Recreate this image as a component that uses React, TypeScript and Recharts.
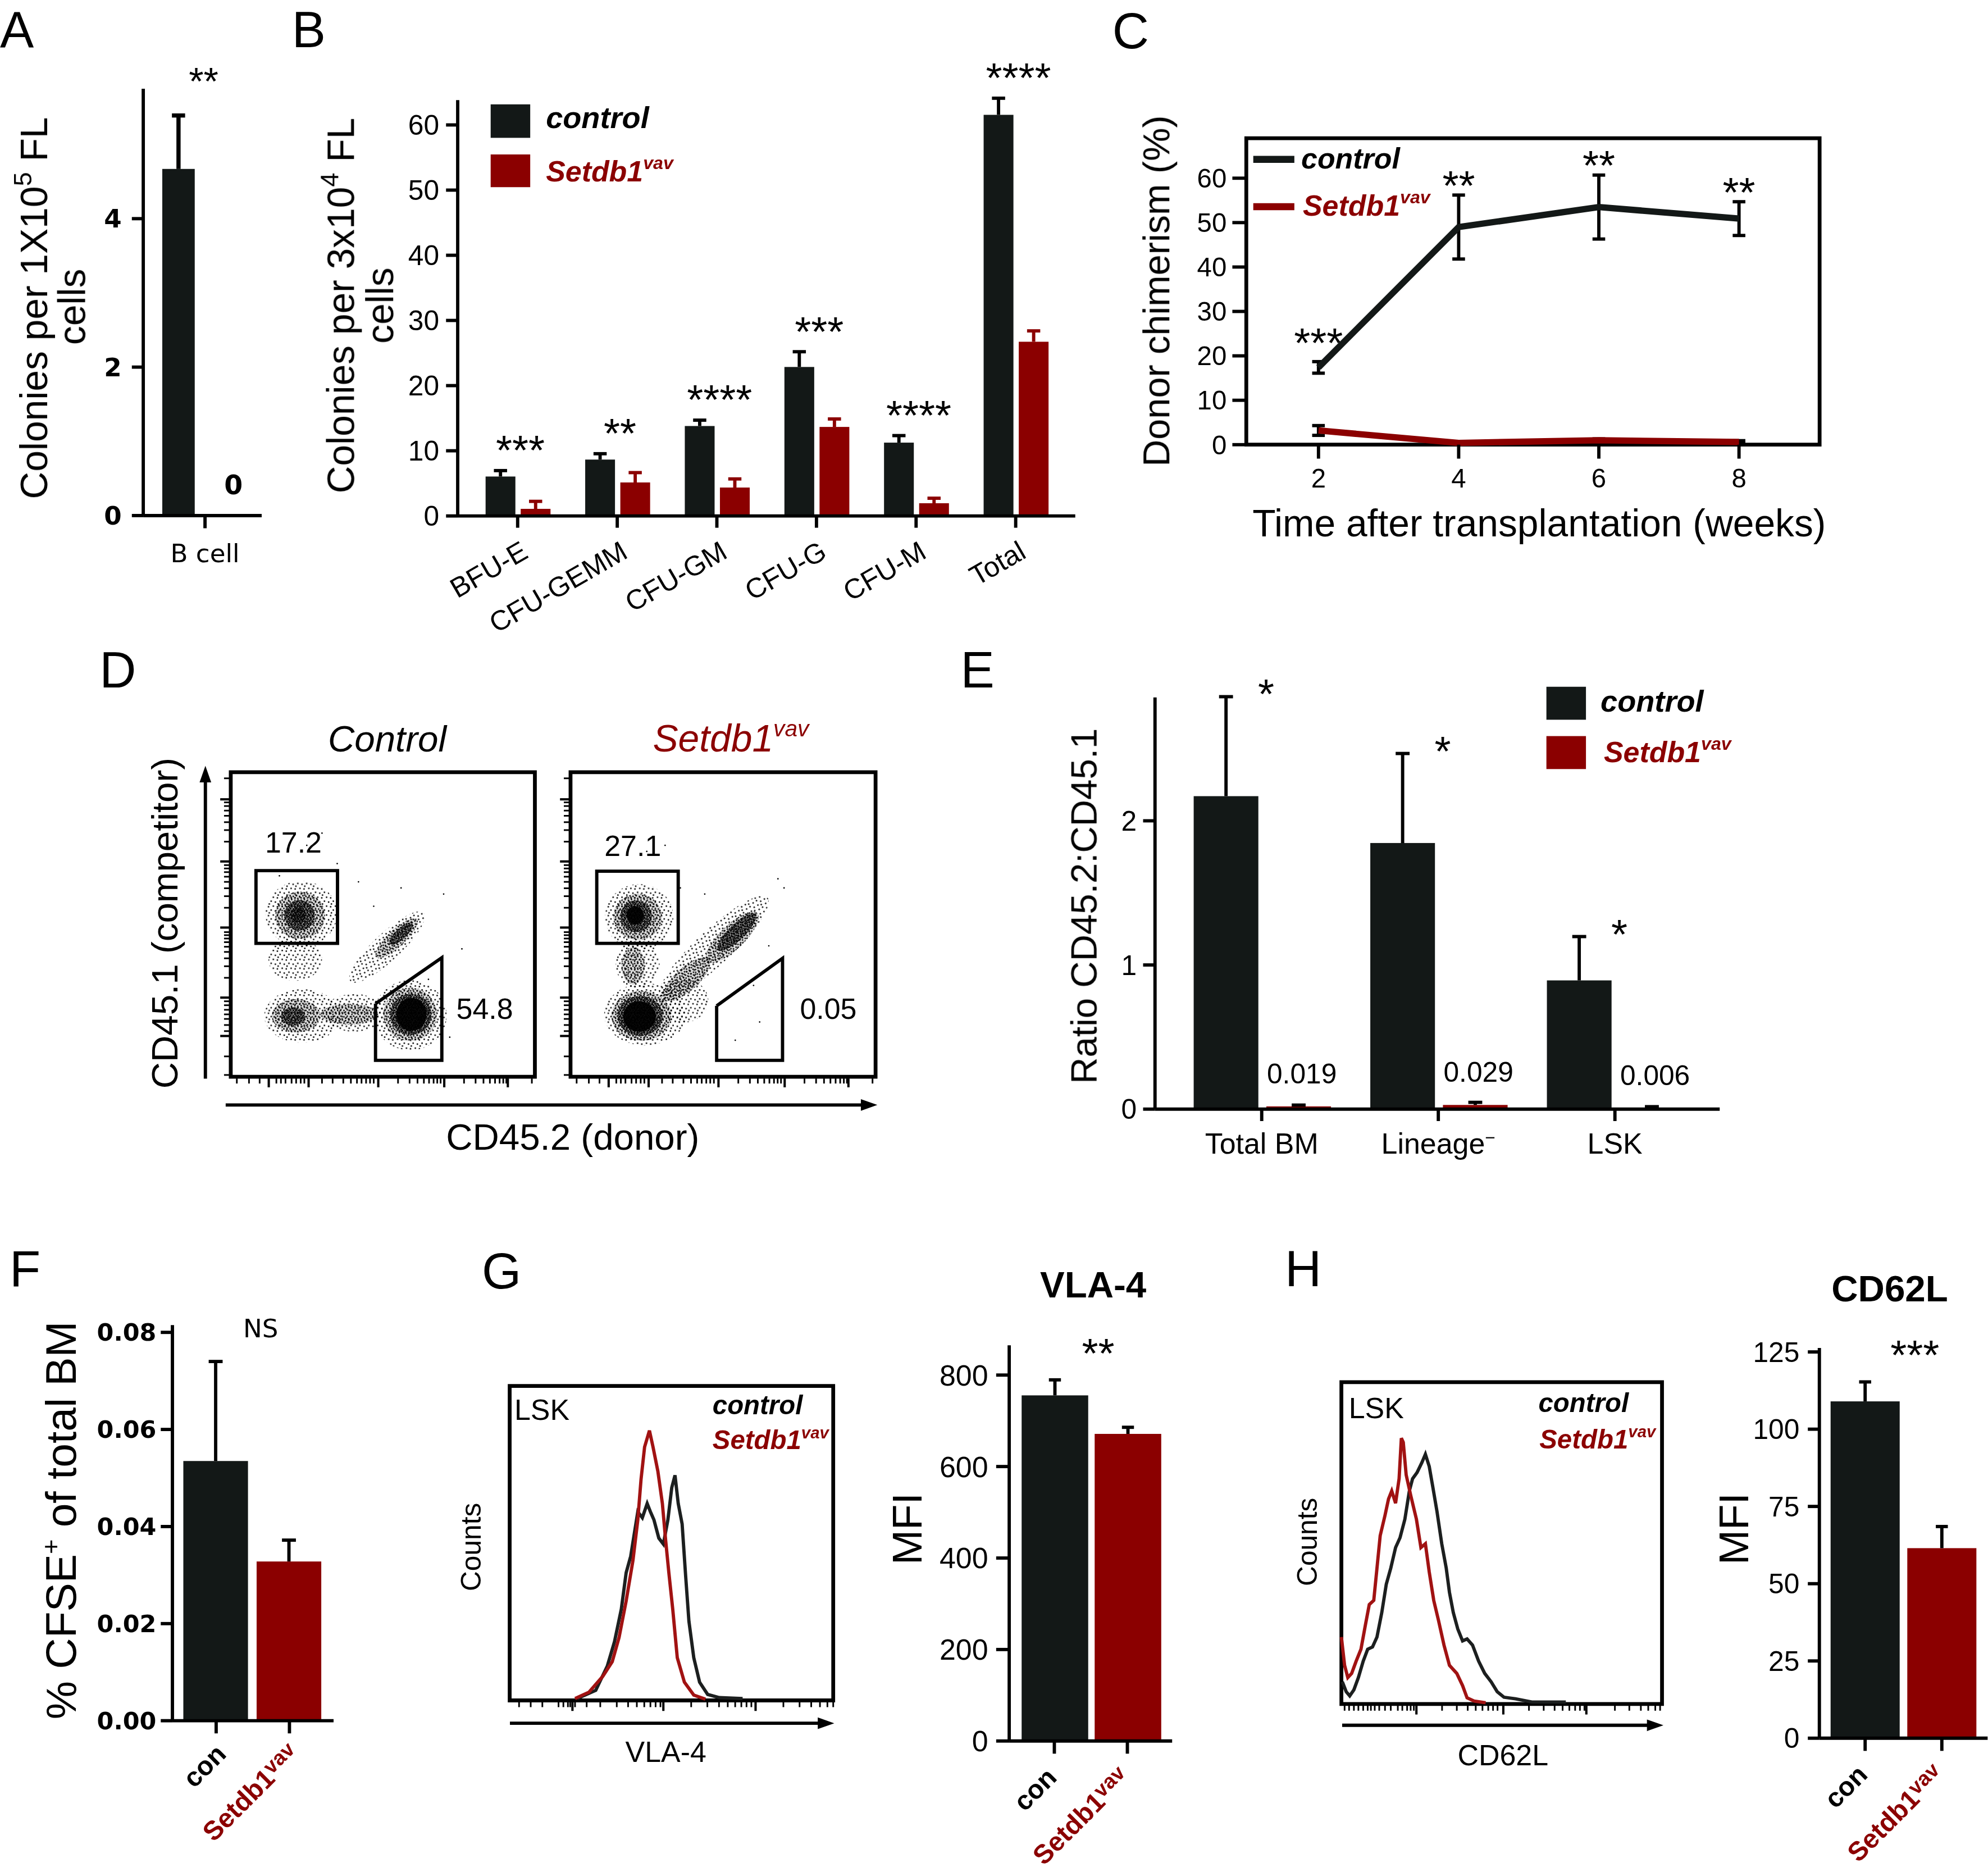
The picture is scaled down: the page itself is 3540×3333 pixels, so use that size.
import React from 'react';
import {
  BarChart, Bar, XAxis, YAxis, LineChart, Line, ErrorBar, LabelList,
  ScatterChart, Scatter, ReferenceArea,
} from 'recharts';

/* ===================== DATA ===================== */
// A – B-cell colonies per 1x10^5 FL cells
const aCategories = ['B cell'];
const aControl = [4.67];
const aControlErr = [0.72];
const aSetdb1 = [0];
const aSetdb1Err = [0];
const aStars = ['**'];
const aTicks = [0, 2, 4];

// B – colonies per 3x10^4 FL cells
const bCategories = ['BFU-E', 'CFU-GEMM', 'CFU-GM', 'CFU-G', 'CFU-M', 'Total'];
const bControl = [6.05, 8.65, 13.8, 22.86, 11.25, 61.55];
const bControlErr = [0.91, 0.9, 0.9, 2.34, 1.08, 2.55];
const bSetdb1 = [1.09, 5.14, 4.36, 13.66, 1.95, 26.73];
const bSetdb1Err = [1.15, 1.51, 1.32, 1.22, 0.77, 1.67];
const bStars = ['***', '**', '****', '***', '****', '****'];
const bTicks = [0, 10, 20, 30, 40, 50, 60];

// C – donor chimerism (%)
const cWeeks = [2, 4, 6, 8];
const cControl = [17.4, 49.0, 53.5, 50.9];
const cControlErr = [1.3, 7.2, 7.2, 3.8];
const cSetdb1 = [3.2, 0.4, 1.0, 0.6];
const cSetdb1Err = [1.1, 0.3, 0.3, 0.3];
const cStars = ['***', '**', '**', '**'];
const cTicks = [0, 10, 20, 30, 40, 50, 60];

// D – flow cytometry populations, channel units 0-1000
// [CD45.2, CD45.1, half-width, half-height, tilt(deg), density 1..4]
const dControlPops = [
  [232, 535, 118, 108, 0, 1],
  [228, 530, 82, 78, 0, 2],
  [226, 530, 50, 50, 0, 3],
  [222, 532, 24, 26, 0, 3],
  [212, 385, 88, 70, 0, 1],
  [235, 200, 125, 88, 0, 1],
  [215, 200, 80, 55, 0, 2],
  [205, 198, 40, 30, 0, 3],
  [405, 210, 100, 62, 0, 1],
  [390, 205, 95, 34, 0, 2],
  [590, 202, 120, 115, 0, 1],
  [590, 205, 88, 88, 0, 2],
  [592, 205, 68, 68, 0, 3],
  [594, 205, 50, 54, 0, 4],
  [514, 426, 165, 45, 43, 1],
  [545, 455, 92, 28, 43, 2],
  [560, 470, 50, 18, 43, 3],
];
const dSetdb1Pops = [
  [225, 525, 112, 108, 0, 1],
  [220, 525, 80, 76, 0, 2],
  [215, 527, 52, 52, 0, 3],
  [212, 530, 28, 30, 0, 4],
  [220, 370, 72, 82, 0, 1],
  [205, 365, 38, 62, 0, 2],
  [245, 205, 135, 102, 0, 1],
  [232, 200, 98, 82, 0, 2],
  [228, 200, 74, 66, 0, 3],
  [226, 198, 54, 50, 0, 4],
  [370, 250, 82, 72, 0, 1],
  [470, 425, 240, 58, 43, 1],
  [380, 320, 100, 38, 42, 2],
  [530, 458, 115, 40, 44, 2],
  [545, 475, 85, 26, 44, 3],
];
const dControlEvents = [[300, 800], [420, 640], [470, 560], [700, 600], [760, 420], [720, 130], [350, 700], [560, 620], [650, 320], [250, 760], [160, 660], [780, 250]];
const dSetdb1Events = [[540, 120], [620, 180], [360, 620], [440, 600], [700, 620], [310, 760], [600, 300], [650, 430], [250, 740], [680, 650]];
const dControlGateRect = [83, 351, 438, 677];
const dSetdb1GateRect = [86, 353, 438, 675];
const dControlGatePoly = [[476, 240], [694, 391], [694, 54], [476, 54], [476, 240]];
const dSetdb1GatePoly = [[479, 233], [695, 389], [695, 54], [479, 54], [479, 233]];
const dControlGateLabels = [[206, 770, '17.2'], [835, 224, '54.8']];
const dSetdb1GateLabels = [[204, 760, '27.1'], [845, 224, '0.05']];
const dMajorX = [125, 256, 485, 702, 911];
const dMinorX = [20, 60, 95, 150, 165, 180, 200, 215, 230, 242, 300, 335, 370, 395, 415, 430, 445, 458, 470, 550, 588, 614, 635, 652, 667, 679, 690, 767, 805, 831, 852, 869, 884, 896, 906, 990];
const dMajorY = [134, 260, 490, 707, 911];
const dMinorY = [6, 67, 150, 170, 190, 205, 220, 235, 248, 325, 363, 389, 410, 427, 442, 454, 465, 475, 555, 593, 619, 640, 657, 672, 684, 695, 772, 810, 836, 857, 874, 889, 901, 980];

// E – ratio CD45.2:CD45.1
const eCategories = ['Total BM', 'Lineage', 'LSK'];
const eControl = [2.171, 1.846, 0.893];
const eControlErr = [0.69, 0.621, 0.304];
const eSetdb1 = [0.019, 0.029, 0.006];
const eSetdb1Err = [0.009, 0.018, 0.011];
const eStars = ['*', '*', '*'];
const eTicks = [0, 1, 2];

// F – % CFSE+ of total BM
const fCategories = ['con', 'Setdb1'];
const fValues = [0.0535, 0.0328];
const fErrors = [0.0205, 0.0044];
const fTicks = [0, 0.02, 0.04, 0.06, 0.08];
const fSignif = 'NS';

// G – VLA-4
const gCategories = ['con', 'Setdb1'];
const gValues = [755.6, 671.4];
const gErrors = [33.9, 14.4];
const gTicks = [0, 200, 400, 600, 800];
const gSignif = '**';
const gHistControlX = [209, 266, 302, 324, 345, 360, 374, 396, 410, 425, 435, 446, 461, 475, 489, 501, 511, 521, 533, 544, 554, 569, 587, 612, 648, 720];
const gHistControlY = [6, 32, 110, 187, 290, 406, 458, 600, 581, 626, 600, 574, 516, 497, 574, 677, 716, 626, 561, 394, 252, 136, 58, 19, 9, 6];
const gHistSetdb1X = [202, 245, 288, 317, 338, 360, 381, 396, 406, 417, 432, 443, 458, 472, 482, 492, 504, 518, 540, 569, 605];
const gHistSetdb1Y = [6, 26, 77, 123, 200, 316, 445, 574, 703, 806, 858, 806, 729, 626, 510, 406, 290, 136, 58, 17, 4];
const gMajor = [194, 475, 760];
const gMinor = [29, 65, 101, 151, 166, 180, 187, 202, 238, 280, 331, 366, 393, 416, 435, 451, 466, 561, 611, 647, 674, 697, 716, 732, 747, 846, 896, 932, 959, 982, 1000];

// H – CD62L
const hCategories = ['con', 'Setdb1'];
const hValues = [109.0, 61.5];
const hErrors = [6.3, 7.0];
const hTicks = [0, 25, 50, 75, 100, 125];
const hSignif = '***';
const hHistControlX = [3, 15, 26, 39, 53, 68, 82, 97, 111, 126, 140, 154, 169, 183, 198, 212, 222, 236, 251, 262, 274, 285, 298, 313, 327, 337, 349, 363, 378, 392, 409, 428, 447, 467, 486, 507, 543, 594, 700];
const hHistControlY = [69, 38, 25, 44, 82, 133, 170, 177, 208, 284, 372, 422, 486, 517, 574, 662, 700, 719, 750, 776, 738, 675, 599, 498, 422, 347, 284, 233, 196, 202, 183, 133, 95, 69, 38, 21, 16, 6, 6];
const hHistSetdb1X = [0, 10, 20, 32, 46, 61, 75, 87, 101, 111, 121, 136, 147, 157, 169, 180, 187, 193, 202, 216, 234, 248, 262, 274, 288, 303, 320, 337, 360, 378, 392, 414, 450];
const hHistSetdb1Y = [208, 120, 82, 95, 133, 170, 246, 309, 322, 422, 523, 586, 637, 662, 624, 700, 826, 813, 712, 649, 574, 486, 498, 410, 322, 259, 183, 120, 95, 57, 19, 9, 4];
const hMajor = [234, 505, 764];
const hMinor = [10, 24, 39, 53, 68, 82, 92, 104, 118, 136, 154, 176, 190, 205, 216, 226, 314, 360, 394, 419, 440, 458, 473, 487, 585, 631, 665, 690, 711, 729, 744, 758, 853, 898, 934, 957, 979, 994];

/* ===================== STYLE / LAYOUT ===================== */
const PAGE_W = 1568;
const PAGE_H = 1476;
const SCALE = 3540 / 1568;
const INK = '#000000';
const BAR_BLACK = '#131817';
const BAR_RED = '#8b0000';
const HIST_BLACK = '#1c1f1f';
const HIST_RED = '#a11212';
const ARIAL = "'Liberation Sans', Arial, Helvetica, sans-serif";
const DEJAVU = "'DejaVu Sans', Verdana, sans-serif";
const AXIS_W = 2.6;
const axisStyle = { stroke: INK, strokeWidth: AXIS_W };

// speckle textures for the flow-cytometry density: [tile size, dot positions]
const SPECKLE_TILES: any = {
  1: [7, [[0.8, 1.1], [4.6, 0.6], [2.9, 3.7], [6.2, 4.4], [1.4, 5.9]]],
  2: [5, [[0.6, 0.9], [3.1, 0.4], [1.9, 2.4], [4.3, 2.9], [0.5, 4.1], [2.9, 4.5]]],
  3: [4, [[0.5, 0.6], [2.3, 0.3], [1.4, 1.7], [3.3, 1.9], [0.4, 3.0], [2.4, 3.3], [3.6, 3.8]]],
};
const SPECKLE_SHADE: any = { 1: 0, 2: 0.12, 3: 0.32 };

const PAD_L = 90, PAD_T = 70, PAD_R = 40, PAD_B = 110;
function frameOf(r: any, yw: number, xh: number) {
  return {
    pos: { position: 'absolute' as const, left: r.x0 - PAD_L, top: r.y0 - PAD_T },
    width: r.x1 - r.x0 + PAD_L + PAD_R,
    height: r.y1 - r.y0 + PAD_T + PAD_B,
    margin: { left: PAD_L - yw, top: PAD_T, right: PAD_R, bottom: PAD_B - xh },
  };
}

function Mark({ x, cy, fs, text, font = ARIAL, mode = 'star' }: any) {
  const y = mode === 'star' ? cy + 0.585 * fs : cy + 0.36 * fs;
  return (
    <text x={x} y={y} textAnchor="middle" fontSize={fs} fontFamily={font} fill={INK}>{text}</text>
  );
}

function barShape(o: any) {
  return (p: any) => {
    const x = Number(p.x), y = Number(p.y), w = Number(p.width), h = Number(p.height);
    const pl = p.payload || {};
    const err = Number(pl[o.errKey] || 0);
    const e = err * o.ppu;
    const cx = x + w / 2;
    const top = y - e;
    const fill = typeof o.fill === 'function' ? o.fill(pl) : o.fill;
    const starText = o.star ? pl[o.star.key] : null;
    return (
      <g>
        {h > 0 && <rect x={x} y={y} width={w} height={h} fill={fill} />}
        {err > 0 && (
          <g stroke={o.errColor} strokeWidth={o.ew}>
            <line x1={cx} x2={cx} y1={y} y2={top} />
            <line x1={cx - o.cap / 2} x2={cx + o.cap / 2} y1={top} y2={top} />
          </g>
        )}
        {starText ? (
          <Mark x={x + w + o.star.after + o.star.dx} cy={top - o.star.lift} fs={o.star.fs}
            text={starText} font={o.star.font || ARIAL} mode={o.star.mode || 'star'} />
        ) : null}
      </g>
    );
  };
}

function SetdbText({ x, y, fs, anchor = 'start', italic = false, bold = false, fill = BAR_RED, supScale = 0.62, rise = 0.42, transform }: any) {
  return (
    <text x={x} y={y} fontSize={fs} fontFamily={ARIAL} fontStyle={italic ? 'italic' : 'normal'}
      fontWeight={bold ? 'bold' : 'normal'} fill={fill} textAnchor={anchor} transform={transform}>
      Setdb1<tspan dy={-rise * fs} fontSize={fs * supScale}>vav</tspan>
    </text>
  );
}

/* ---------- grouped (control vs Setdb1) bar panel ---------- */
function GroupedBars(props: any) {
  const { rect, rows, domain, ticks, yFont, yTickSize, yTickMargin, pad, barSize, barGap,
    xTick, xTickSize, xTickMargin, setErrColor, cap, ew, star, valueLabel } = props;
  const f = frameOf(rect, 70, 50);
  const ppu = (rect.y1 - rect.y0) / domain[1];
  return (
    <div style={f.pos}>
      <BarChart width={f.width} height={f.height} data={rows} margin={f.margin} barGap={barGap}>
        <XAxis dataKey="name" type="category" padding={pad} height={50} tickSize={xTickSize}
          tickMargin={xTickMargin} interval={0} axisLine={axisStyle} tickLine={axisStyle} tick={xTick} />
        <YAxis type="number" domain={domain} ticks={ticks} width={70} tickSize={yTickSize}
          tickMargin={yTickMargin} interval={0} axisLine={axisStyle} tickLine={axisStyle} tick={yFont} />
        <Bar dataKey="c" barSize={barSize} isAnimationActive={false}
          shape={barShape({ fill: BAR_BLACK, errKey: 'ce', errColor: INK, cap, ew, ppu,
            star: { key: 'star', after: barGap / 2, ...star } })} />
        <Bar dataKey="s" barSize={barSize} isAnimationActive={false}
          shape={barShape({ fill: BAR_RED, errKey: 'se', errColor: setErrColor, cap, ew, ppu })}>
          {valueLabel ? (
            <LabelList dataKey="s" content={(p: any) => (
              <text x={Number(p.x) + Number(p.width) / 2 + valueLabel.dx} y={Number(p.y) - valueLabel.lift + 0.36 * valueLabel.fs}
                textAnchor="middle" fontSize={valueLabel.fs} fontFamily={valueLabel.font}
                fontWeight={valueLabel.weight || 'normal'} fill={INK}>{String(p.value)}</text>
            )} />
          ) : null}
        </Bar>
      </BarChart>
    </div>
  );
}

/* ---------- single-series (con / Setdb1) bar panel ---------- */
function GroupTick({ x, y, payload, dx, dy }: any) {
  const px = Number(x) + dx, py = Number(y) + dy;
  const isCon = payload.value === 'con';
  if (isCon) {
    return (
      <text x={px} y={py} transform={`rotate(-45 ${px} ${py})`} textAnchor="end" fontFamily={ARIAL}
        fontWeight="bold" fontSize={21} fill={INK}>con</text>
    );
  }
  return (
    <SetdbText x={px} y={py} fs={21} anchor="end" bold fill={BAR_RED} supScale={0.78} rise={0.26}
      transform={`rotate(-45 ${px} ${py})`} />
  );
}

function SingleBars(props: any) {
  const { rect, rows, domain, ticks, yFont, yTickSize, yTickMargin, pad, barSize, fmt,
    xDx, xDy, cap, star } = props;
  const f = frameOf(rect, 70, 50);
  const ppu = (rect.y1 - rect.y0) / domain[1];
  const band = (rect.x1 - rect.x0 - pad.left - pad.right) / rows.length;
  return (
    <div style={f.pos}>
      <BarChart width={f.width} height={f.height} data={rows} margin={f.margin}>
        <XAxis dataKey="name" type="category" padding={pad} height={50} tickSize={10} tickMargin={0}
          interval={0} axisLine={axisStyle} tickLine={axisStyle}
          tick={(p: any) => <GroupTick {...p} dx={xDx} dy={xDy} />} />
        <YAxis type="number" domain={domain} ticks={ticks} width={70} tickSize={yTickSize}
          tickMargin={yTickMargin} interval={0} axisLine={axisStyle} tickLine={axisStyle} tick={yFont}
          tickFormatter={fmt} />
        <Bar dataKey="v" barSize={barSize} isAnimationActive={false}
          shape={barShape({ fill: (pl: any) => (pl.name === 'con' ? BAR_BLACK : BAR_RED), errKey: 'e',
            errColor: INK, cap, ew: AXIS_W, ppu,
            star: { key: 'star', after: (band - barSize) / 2, ...star } })} />
      </BarChart>
    </div>
  );
}

/* ---------- A ---------- */
function PanelA() {
  const rows = aCategories.map((name, i) => ({ name, c: aControl[i], ce: aControlErr[i], s: aSetdb1[i], se: aSetdb1Err[i], star: aStars[i] }));
  return (
    <GroupedBars rect={{ x0: 113, y0: 69.9, x1: 206.4, y1: 406.5 }} rows={rows} domain={[0, 5.75]} ticks={aTicks}
      yFont={{ fontSize: 20, fontFamily: DEJAVU, fontWeight: 'bold', fill: INK }} yTickSize={9} yTickMargin={8}
      pad={{ left: 4, right: 0 }} barSize={25.6} barGap={15.4}
      xTick={{ fontSize: 20, fontFamily: DEJAVU, fill: INK }} xTickSize={10} xTickMargin={12.5}
      setErrColor={INK} cap={10.4} ew={3.3}
      star={{ lift: 34, dx: -0.7, fs: 30 }}
      valueLabel={{ lift: 24.3, dx: 2.4, fs: 21, font: DEJAVU, weight: 'bold' }} />
  );
}

/* ---------- B ---------- */
function BTick({ x, y, payload }: any) {
  const px = Number(x) + 9.5, py = Number(y) + 23;
  return (
    <text x={px} y={py} transform={`rotate(-30 ${px} ${py})`} textAnchor="end" fontFamily={ARIAL}
      fontSize={22} fill={INK}>{payload.value}</text>
  );
}
function PanelB() {
  const rows = bCategories.map((name, i) => ({ name, c: bControl[i], ce: bControlErr[i], s: bSetdb1[i], se: bSetdb1Err[i], star: bStars[i] }));
  return (
    <GroupedBars rect={{ x0: 360.9, y0: 79.2, x1: 848, y1: 407.1 }} rows={rows} domain={[0, 63.8]} ticks={bTicks}
      yFont={{ fontSize: 22, fontFamily: ARIAL, fill: INK }} yTickSize={9.2} yTickMargin={5.4}
      pad={{ left: 8, right: 7.7 }} barSize={23.5} barGap={4.2}
      xTick={(p: any) => <BTick {...p} />} xTickSize={9.3} xTickMargin={0}
      setErrColor={BAR_RED} cap={10.4} ew={AXIS_W}
      star={{ lift: 24, dx: 1.8, fs: 33 }} />
  );
}

/* ---------- C ---------- */
const C_X_DOMAIN = [0.97, 9.15];
const C_Y_MAX = 69;
const cStarLift = [23, 15.5, 15.5, 15.5];
function PanelC() {
  const rect = { x0: 982.7, y0: 108.8, x1: 1434.9, y1: 350.5 };
  const f = frameOf(rect, 70, 60);
  const ppu = (rect.y1 - rect.y0) / C_Y_MAX;
  const rows = cWeeks.map((w, i) => ({ w, c: cControl[i], ce: cControlErr[i], s: cSetdb1[i], se: cSetdb1Err[i], star: cStars[i] }));
  const tickFont = { fontSize: 21, fontFamily: ARIAL, fill: INK };
  return (
    <div style={f.pos}>
      <LineChart width={f.width} height={f.height} data={rows} margin={f.margin}>
        <XAxis dataKey="w" type="number" domain={C_X_DOMAIN} ticks={cWeeks} interval={0} height={60}
          axisLine={false} tickLine={axisStyle} tickSize={11} tickMargin={8} tick={tickFont} />
        <YAxis type="number" domain={[0, C_Y_MAX]} ticks={cTicks} interval={0} width={70}
          axisLine={false} tickLine={axisStyle} tickSize={11} tickMargin={4.5} tick={tickFont} />
        <ReferenceArea x1={C_X_DOMAIN[0]} x2={C_X_DOMAIN[1]} y1={0} y2={C_Y_MAX} fill="none" fillOpacity={0}
          stroke={INK} strokeWidth={3} />
        <Line dataKey="s" type="linear" stroke={BAR_RED} strokeWidth={5} dot={false} isAnimationActive={false}>
          <ErrorBar dataKey="se" width={5} stroke={INK} strokeWidth={AXIS_W} direction="y" isAnimationActive={false} />
        </Line>
        <Line dataKey="c" type="linear" stroke={BAR_BLACK} strokeWidth={5} isAnimationActive={false}
          dot={(p: any) => (
            <Mark key={`cstar-${p.index}`} x={p.cx} cy={p.cy - p.payload.ce * ppu - cStarLift[p.index]} fs={33} text={p.payload.star} />
          )}>
          <ErrorBar dataKey="ce" width={5} stroke={INK} strokeWidth={AXIS_W} direction="y" isAnimationActive={false} />
        </Line>
      </LineChart>
    </div>
  );
}

/* ---------- D (flow plots) ---------- */
function LogTickX({ x, y, payload, majors }: any) {
  const major = majors.includes(payload.value);
  const yy = Number(y) + 1.3;
  return <line x1={x} x2={x} y1={yy} y2={yy + (major ? 7 : 4)} stroke={INK} strokeWidth={major ? 1.8 : 1.3} />;
}
function LogTickY({ x, y, payload, majors }: any) {
  const major = majors.includes(payload.value);
  const xx = Number(x) - 1.3;
  return <line x1={xx} x2={xx - (major ? 7 : 4)} y1={y} y2={y} stroke={INK} strokeWidth={major ? 1.8 : 1.3} />;
}

function FlowPlot({ rect, pops, events, gateRect, gatePoly, gateLabels }: any) {
  const f = frameOf(rect, 20, 20);
  const sx = (rect.x1 - rect.x0) / 1000;
  const sy = (rect.y1 - rect.y0) / 1000;
  const popRows = pops.map(([x, y, rx, ry, a, d]: any) => ({ x, y, rx, ry, a, d }));
  const eventRows = events.map(([x, y]: any) => ({ x, y }));
  const polyRows = gatePoly.map(([x, y]: any) => ({ x, y }));
  const labelRows = gateLabels.map(([x, y, t]: any) => ({ x, y, t }));
  return (
    <div style={f.pos}>
      <ScatterChart width={f.width} height={f.height} margin={f.margin}>
        <XAxis dataKey="x" type="number" domain={[0, 1000]} ticks={[...dMajorX, ...dMinorX]} interval={0} height={20}
          axisLine={false} tickLine={false} tickSize={0} tickMargin={0}
          tick={(p: any) => <LogTickX {...p} majors={dMajorX} />} />
        <YAxis dataKey="y" type="number" domain={[0, 1000]} ticks={[...dMajorY, ...dMinorY]} interval={0} width={20}
          axisLine={false} tickLine={false} tickSize={0} tickMargin={0}
          tick={(p: any) => <LogTickY {...p} majors={dMajorY} />} />
        <Scatter data={popRows} isAnimationActive={false}
          shape={(p: any) => {
            const d = p.payload.d;
            const rx = p.payload.rx * sx, ry = p.payload.ry * sy;
            const tf = `rotate(${-p.payload.a} ${p.cx} ${p.cy})`;
            if (d === 4) return <ellipse cx={p.cx} cy={p.cy} rx={rx} ry={ry} fill="#000" fillOpacity={0.93} transform={tf} />;
            return (
              <g transform={tf}>
                {SPECKLE_SHADE[d] > 0 && <ellipse cx={p.cx} cy={p.cy} rx={rx} ry={ry} fill="#000" fillOpacity={SPECKLE_SHADE[d]} />}
                <ellipse cx={p.cx} cy={p.cy} rx={rx} ry={ry} fill={`url(#spk${d})`} />
              </g>
            );
          }} />
        <Scatter data={eventRows} isAnimationActive={false}
          shape={(p: any) => <circle cx={p.cx} cy={p.cy} r={0.6} fill="#000" />} />
        <ReferenceArea x1={gateRect[0]} x2={gateRect[1]} y1={gateRect[2]} y2={gateRect[3]} fill="none" fillOpacity={0}
          stroke={INK} strokeWidth={2.6} />
        <Scatter data={polyRows} isAnimationActive={false} line={{ stroke: INK, strokeWidth: 2.6 }} lineJointType="linear"
          shape={() => <g />} />
        <Scatter data={labelRows} isAnimationActive={false}
          shape={(p: any) => (
            <text x={p.cx} y={p.cy + 0.36 * 23} textAnchor="middle" fontSize={23} fontFamily={ARIAL} fill={INK}>{p.payload.t}</text>
          )} />
        <ReferenceArea x1={0} x2={1000} y1={0} y2={1000} fill="none" fillOpacity={0} stroke={INK} strokeWidth={3} />
      </ScatterChart>
    </div>
  );
}

/* ---------- E ---------- */
function ETick({ x, y, payload }: any) {
  const v = payload.value;
  return (
    <text x={x} y={y} dy="0.71em" textAnchor="middle" fontFamily={ARIAL} fontSize={23} fill={INK}>
      {v === 'Lineage' ? (<>Lineage<tspan dy={-8} fontSize={14}>−</tspan></>) : v}
    </text>
  );
}
function PanelE() {
  const rows = eCategories.map((name, i) => ({ name, c: eControl[i], ce: eControlErr[i], s: eSetdb1[i], se: eSetdb1Err[i], star: eStars[i] }));
  return (
    <GroupedBars rect={{ x0: 910.5, y0: 550.2, x1: 1355.9, y1: 874.9 }} rows={rows} domain={[0, 2.856]} ticks={eTicks}
      yFont={{ fontSize: 22, fontFamily: ARIAL, fill: INK }} yTickSize={9.4} yTickMargin={5}
      pad={{ left: 14.5, right: 13 }} barSize={51} barGap={6.3}
      xTick={(p: any) => <ETick {...p} />} xTickSize={9.4} xTickMargin={9.2}
      setErrColor={INK} cap={11} ew={AXIS_W}
      star={{ lift: 10, dx: 3, fs: 33 }}
      valueLabel={{ lift: 26, dx: 2.5, fs: 22, font: ARIAL }} />
  );
}

/* ---------- F / G / H bars ---------- */
function PanelF() {
  const rows = fCategories.map((name, i) => ({ name, v: fValues[i], e: fErrors[i], star: i === 0 ? fSignif : undefined }));
  return (
    <SingleBars rect={{ x0: 135.9, y0: 1045.4, x1: 263, y1: 1357.4 }} rows={rows} domain={[0, 0.0815]} ticks={fTicks}
      fmt={(v: number) => v.toFixed(2)}
      yFont={{ fontSize: 19, fontFamily: DEJAVU, fontWeight: 'bold', fill: INK }} yTickSize={9.2} yTickMargin={3.5}
      pad={{ left: 5.6, right: 5.9 }} barSize={51} xDx={9} xDy={17.5} cap={11}
      star={{ lift: 26.2, dx: 6.6, fs: 20, font: DEJAVU, mode: 'text' }} />
  );
}
function PanelGBars() {
  const rows = gCategories.map((name, i) => ({ name, v: gValues[i], e: gErrors[i], star: i === 0 ? gSignif : undefined }));
  return (
    <SingleBars rect={{ x0: 796.3, y0: 1060.8, x1: 924.8, y1: 1372.8 }} rows={rows} domain={[0, 864.9]} ticks={gTicks}
      yFont={{ fontSize: 23, fontFamily: ARIAL, fill: INK }} yTickSize={10.3} yTickMargin={6.3}
      pad={{ left: 6.8, right: 6.5 }} barSize={52.5} xDx={3} xDy={20} cap={9.5}
      star={{ lift: 28.8, dx: 5.3, fs: 33 }} />
  );
}
function PanelHBars() {
  const rows = hCategories.map((name, i) => ({ name, v: hValues[i], e: hErrors[i], star: i === 0 ? hSignif : undefined }));
  return (
    <SingleBars rect={{ x0: 1435, y0: 1063.4, x1: 1567.7, y1: 1371.2 }} rows={rows} domain={[0, 126.3]} ticks={hTicks}
      yFont={{ fontSize: 22, fontFamily: ARIAL, fill: INK }} yTickSize={9.1} yTickMargin={6.6}
      pad={{ left: 5.85, right: 5.85 }} barSize={54.5} xDx={3} xDy={20} cap={9.5}
      star={{ lift: 29.4, dx: 9, fs: 33 }} />
  );
}

/* ---------- G / H histograms ---------- */
function HistPlot({ rect, ctrlX, ctrlY, setX, setY, majors, minors }: any) {
  const f = frameOf(rect, 0, 20);
  const ctrl = ctrlX.map((x: number, i: number) => ({ x, y: ctrlY[i] }));
  const set = setX.map((x: number, i: number) => ({ x, y: setY[i] }));
  return (
    <div style={f.pos}>
      <LineChart width={f.width} height={f.height} margin={f.margin}>
        <XAxis dataKey="x" type="number" domain={[0, 1000]} ticks={[...majors, ...minors]} interval={0} height={20}
          axisLine={false} tickLine={false} tickSize={0} tickMargin={0}
          tick={(p: any) => <LogTickX {...p} majors={majors} />} />
        <YAxis type="number" domain={[0, 1000]} hide width={0} />
        <ReferenceArea x1={0} x2={1000} y1={0} y2={1000} fill="none" fillOpacity={0} stroke={INK} strokeWidth={3} />
        <Line data={ctrl} dataKey="y" type="linear" stroke={HIST_BLACK} strokeWidth={2.6} dot={false} isAnimationActive={false} />
        <Line data={set} dataKey="y" type="linear" stroke={HIST_RED} strokeWidth={2.6} dot={false} isAnimationActive={false} />
      </LineChart>
    </div>
  );
}

/* ---------- decorations: labels, legends, arrows ---------- */
function RotText({ x, y, fs, children }: any) {
  return (
    <text transform={`translate(${x} ${y}) rotate(-90)`} textAnchor="middle" fontSize={fs} fontFamily={ARIAL} fill={INK}>
      {children}
    </text>
  );
}
function Arrow({ x1, y1, x2, y2 }: any) {
  const horiz = y1 === y2;
  const head = horiz
    ? `${x2},${y2} ${x2 - 13},${y2 - 4.6} ${x2 - 13},${y2 + 4.6}`
    : `${x2},${y2} ${x2 - 4.6},${y2 + 13} ${x2 + 4.6},${y2 + 13}`;
  return (
    <g>
      <line x1={x1} y1={y1} x2={horiz ? x2 - 8 : x2} y2={horiz ? y2 : y2 + 8} stroke={INK} strokeWidth={AXIS_W} />
      <polygon points={head} fill={INK} />
    </g>
  );
}
function Defs() {
  return (
    <svg width={0} height={0} style={{ position: 'absolute', left: 0, top: 0 }}>
      <defs>
        {[1, 2, 3].map((lvl) => {
          const [size, dots] = SPECKLE_TILES[lvl];
          return (
            <pattern key={lvl} id={`spk${lvl}`} width={size} height={size} patternUnits="userSpaceOnUse">
              {dots.map(([cx, cy]: any, i: number) => (
                <rect key={i} x={cx - 0.55} y={cy - 0.55} width={1.1} height={1.1} fill="#000" />
              ))}
            </pattern>
          );
        })}
      </defs>
    </svg>
  );
}

const panelLetters: [string, number, number][] = [
  ['A', 0, 37.3], ['B', 230.2, 37.3], ['C', 877.4, 38.1], ['D', 78.5, 542.1],
  ['E', 757.6, 542.1], ['F', 7.5, 1014.4], ['G', 380, 1016], ['H', 1013.4, 1014.4],
];

function Overlay() {
  const bi = { fontFamily: ARIAL, fontWeight: 'bold', fontStyle: 'italic' } as any;
  return (
    <svg width={PAGE_W} height={PAGE_H} style={{ position: 'absolute', left: 0, top: 0, overflow: 'visible', pointerEvents: 'none' }}>
      {panelLetters.map(([t, x, y]) => (
        <text key={t} x={x} y={y} fontSize={40} fontFamily={ARIAL} fill={INK}>{t}</text>
      ))}

      {/* A */}
      <RotText x={37} y={243} fs={30}>Colonies per 1X10<tspan dy={-12} fontSize={20}>5</tspan><tspan dy={12} fontSize={30}> FL</tspan></RotText>
      <RotText x={67} y={242} fs={30}>cells</RotText>

      {/* B */}
      <RotText x={279} y={241} fs={30}>Colonies per 3x10<tspan dy={-12} fontSize={20}>4</tspan><tspan dy={12} fontSize={30}> FL</tspan></RotText>
      <RotText x={310} y={241} fs={30}>cells</RotText>
      <rect x={387} y={82.3} width={31.2} height={26.4} fill={BAR_BLACK} />
      <rect x={387} y={121.8} width={31.2} height={25.8} fill={BAR_RED} />
      <text x={430.6} y={101} fontSize={24} fill={INK} {...bi}>control</text>
      <SetdbText x={430.6} y={143} fs={23} italic bold />

      {/* C */}
      <RotText x={922.5} y={229.5} fs={29.5}>Donor chimerism (%)</RotText>
      <text x={1214} y={423.1} textAnchor="middle" fontSize={30} fontFamily={ARIAL} fill={INK}>Time after transplantation (weeks)</text>
      <line x1={988.5} x2={1020.9} y1={125.7} y2={125.7} stroke={BAR_BLACK} strokeWidth={5.5} />
      <line x1={988.5} x2={1020.9} y1={163} y2={163} stroke={BAR_RED} strokeWidth={5.5} />
      <text x={1026.3} y={133} fontSize={23} fill={INK} {...bi}>control</text>
      <SetdbText x={1027.6} y={170} fs={23} italic bold />

      {/* D */}
      <RotText x={140} y={728} fs={29}>CD45.1 (competitor)</RotText>
      <text x={451.7} y={906.8} textAnchor="middle" fontSize={29} fontFamily={ARIAL} fill={INK}>CD45.2 (donor)</text>
      <text x={305.4} y={592.8} textAnchor="middle" fontSize={29} fontFamily={ARIAL} fontStyle="italic" fill={INK}>Control</text>
      <SetdbText x={514.9} y={592.8} fs={30} italic supScale={0.6} rise={0.4} />
      <Arrow x1={162} y1={850.7} x2={162} y2={604} />
      <Arrow x1={178} y1={871.4} x2={692} y2={871.4} />

      {/* E */}
      <RotText x={865} y={714.5} fs={29}>Ratio CD45.2:CD45.1</RotText>
      <rect x={1219.7} y={541.6} width={31.2} height={26} fill={BAR_BLACK} />
      <rect x={1219.7} y={580.5} width={31.2} height={26} fill={BAR_RED} />
      <text x={1262.4} y={561} fontSize={24} fill={INK} {...bi}>control</text>
      <SetdbText x={1265} y={601} fs={23} italic bold />

      {/* F */}
      <RotText x={60} y={1199} fs={34}>% CFSE<tspan dy={-13} fontSize={20}>+</tspan><tspan dy={13} fontSize={34}> of total BM</tspan></RotText>

      {/* G */}
      <RotText x={379} y={1220} fs={22}>Counts</RotText>
      <text x={525.2} y={1389.6} textAnchor="middle" fontSize={23} fontFamily={ARIAL} fill={INK}>VLA-4</text>
      <text x={405.7} y={1119.6} fontSize={23} fontFamily={ARIAL} fill={INK}>LSK</text>
      <text x={562} y={1115.2} fontSize={21} fill={INK} {...bi}>control</text>
      <SetdbText x={562} y={1143} fs={21} italic bold />
      <Arrow x1={402.2} y1={1359} x2={658} y2={1359} />
      <text x={862.2} y={1023.2} textAnchor="middle" fontSize={29} fontFamily={ARIAL} fontWeight="bold" fill={INK}>VLA-4</text>
      <RotText x={727} y={1205.6} fs={33}>MFI</RotText>

      {/* H */}
      <RotText x={1038.5} y={1216} fs={22}>Counts</RotText>
      <text x={1185.4} y={1392.2} textAnchor="middle" fontSize={23} fontFamily={ARIAL} fill={INK}>CD62L</text>
      <text x={1063.8} y={1118.6} fontSize={23} fontFamily={ARIAL} fill={INK}>LSK</text>
      <text x={1213.4} y={1113.6} fontSize={21} fill={INK} {...bi}>control</text>
      <SetdbText x={1214.2} y={1142.4} fs={21} italic bold />
      <Arrow x1={1058.6} y1={1360.6} x2={1312} y2={1360.6} />
      <text x={1490.5} y={1026.4} textAnchor="middle" fontSize={29} fontFamily={ARIAL} fontWeight="bold" fill={INK}>CD62L</text>
      <RotText x={1379} y={1205.6} fs={33}>MFI</RotText>
    </svg>
  );
}

export default function App() {
  return (
    <div style={{ position: 'absolute', left: 0, top: 0, width: 3540, height: 3333, overflow: 'hidden', background: '#ffffff' }}>
      <style>{`.recharts-surface{overflow:visible}.recharts-wrapper{overflow:visible}`}</style>
      <div style={{ position: 'absolute', left: 0, top: 0, width: PAGE_W, height: PAGE_H, transform: `scale(${SCALE})`, transformOrigin: '0 0' }}>
        <Defs />
        <PanelA />
        <PanelB />
        <PanelC />
        <FlowPlot rect={{ x0: 182, y0: 609.2, x1: 421.9, y1: 849.4 }} pops={dControlPops} events={dControlEvents}
          gateRect={dControlGateRect} gatePoly={dControlGatePoly} gateLabels={dControlGateLabels} />
        <FlowPlot rect={{ x0: 450, y0: 609.2, x1: 690.6, y1: 849.4 }} pops={dSetdb1Pops} events={dSetdb1Events}
          gateRect={dSetdb1GateRect} gatePoly={dSetdb1GatePoly} gateLabels={dSetdb1GateLabels} />
        <PanelE />
        <PanelF />
        <HistPlot rect={{ x0: 402.2, y0: 1092.8, x1: 657.4, y1: 1340.8 }} ctrlX={gHistControlX} ctrlY={gHistControlY}
          setX={gHistSetdb1X} setY={gHistSetdb1Y} majors={gMajor} minors={gMinor} />
        <PanelGBars />
        <HistPlot rect={{ x0: 1057.8, y0: 1090.2, x1: 1310.7, y1: 1344 }} ctrlX={hHistControlX} ctrlY={hHistControlY}
          setX={hHistSetdb1X} setY={hHistSetdb1Y} majors={hMajor} minors={hMinor} />
        <PanelHBars />
        <Overlay />
      </div>
    </div>
  );
}
